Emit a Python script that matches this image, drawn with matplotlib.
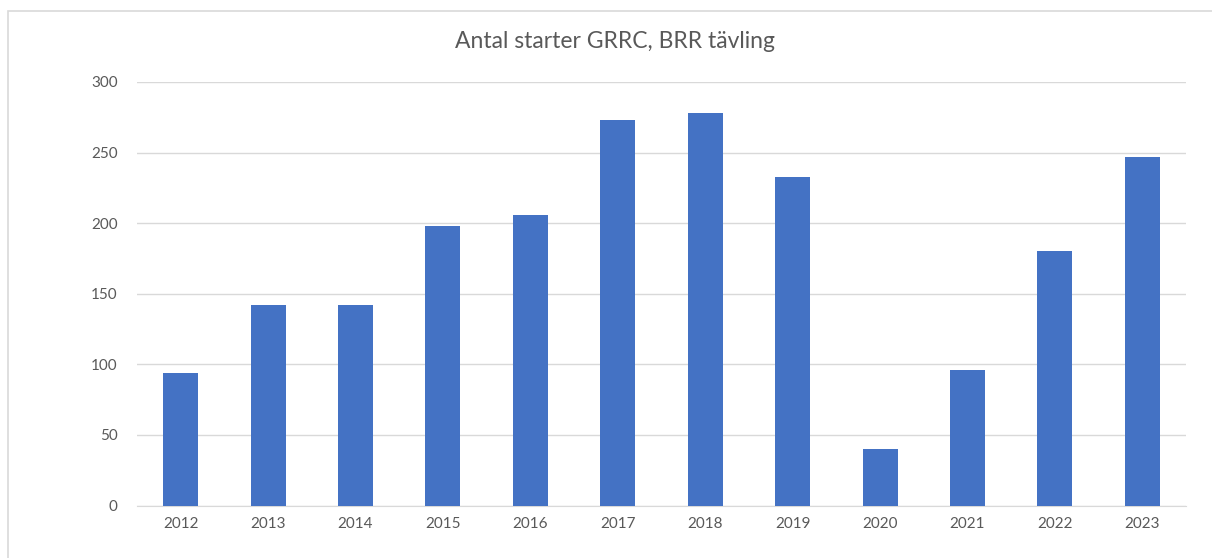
import matplotlib
matplotlib.use('Agg')
import matplotlib.pyplot as plt
from matplotlib.patches import Rectangle

years = ['2012', '2013', '2014', '2015', '2016', '2017',
         '2018', '2019', '2020', '2021', '2022', '2023']
starter = [94, 142, 142, 198, 206, 273, 278, 233, 40, 96, 180, 247]

plt.rcParams['font.family'] = ['Lato', 'DejaVu Sans']
textfarg = '#595959'

fig = plt.figure(figsize=(12.12, 5.58), dpi=100)
ax = fig.add_axes([137 / 1212, 1 - 505.5 / 558, (1186 - 137) / 1212, (505.5 - 82) / 558])

x = range(len(years))
ax.bar(x, starter, width=0.4, color='#4472C4', zorder=3)
ax.set_xlim(-0.5, len(years) - 0.5)
ax.set_ylim(0, 300)
ax.set_yticks(range(0, 301, 50))
ax.set_xticks(list(x))
ax.set_xticklabels(years)
ax.grid(axis='y', color='#D9D9D9', lw=1, zorder=0)
for s in ['top', 'right', 'left']:
    ax.spines[s].set_visible(False)
ax.spines['bottom'].set_color('#D9D9D9')
ax.tick_params(length=0, colors=textfarg, labelsize=11)
ax.tick_params(axis='y', pad=14)
ax.tick_params(axis='x', pad=8)

fig.text(615 / 1212, 1 - 42 / 558, 'Antal starter GRRC, BRR tävling',
         ha='center', va='center', fontsize=16.5, color=textfarg)

# ram runt diagrammet
fig.patches.append(Rectangle((8 / 1212, -0.1), 1.2, 1 - 11 / 558 + 0.1,
                             transform=fig.transFigure, fill=False,
                             ec='#D9D9D9', lw=1.2))

fig.savefig('out.png', dpi=100)
